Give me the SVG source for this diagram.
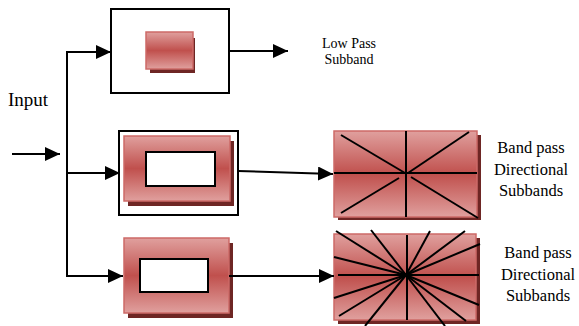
<svg xmlns="http://www.w3.org/2000/svg" width="579" height="326" viewBox="0 0 579 326">
  <defs>
    <linearGradient id="gloss" x1="0" y1="0" x2="0" y2="1">
      <stop offset="0" stop-color="#e0a09e"/>
      <stop offset="0.5" stop-color="#c0504d"/>
      <stop offset="1" stop-color="#e0a09e"/>
    </linearGradient>
    <marker id="head" markerUnits="userSpaceOnUse" markerWidth="16" markerHeight="14" refX="15" refY="7" orient="auto">
      <path d="M0,0 L15,7 L0,14 z" fill="#000"/>
    </marker>
    <style>
      .frame { fill: #fff; stroke: #000; stroke-width: 2; }
      .shadow { fill: #6e2624; }
      .block { fill: url(#gloss); stroke: #cd6a67; stroke-width: 1.5; }
      .hole { fill: #fff; stroke: #000; stroke-width: 2; }
      .wire { fill: none; stroke: #000; stroke-width: 2; }
      .arrow { fill: none; stroke: #000; stroke-width: 2; marker-end: url(#head); }
      .dir { stroke: #000; stroke-width: 2; }
      text { font-family: "Liberation Serif", "DejaVu Serif", serif; fill: #000; }
    </style>
  </defs>

  <g id="input-label">
    <text x="8" y="106" font-size="19" font-family="Liberation Serif, serif">Input</text>
  </g>

  <!-- low pass filter -->
  <g id="lowpass">
    <rect class="frame" x="111" y="9" width="118" height="84"/>
    <rect class="shadow" x="150" y="38" width="45" height="35"/>
    <rect class="block" x="146" y="32" width="47" height="37"/>
  </g>

  <!-- first directional filter -->
  <g id="dfb1">
    <rect class="frame" x="119" y="131" width="119" height="84"/>
    <rect class="shadow" x="128" y="141" width="106" height="65"/>
    <rect class="block" x="124" y="136" width="106" height="65"/>
    <rect class="hole" x="146" y="152" width="69" height="34"/>
  </g>

  <!-- second directional filter -->
  <g id="dfb2">
    <rect class="shadow" x="128" y="243" width="105" height="75"/>
    <rect class="block" x="124" y="238" width="105" height="75"/>
    <rect class="hole" x="140" y="259" width="68" height="33"/>
  </g>

  <!-- eight-direction subbands -->
  <g id="subbands8">
    <rect class="shadow" x="338" y="135" width="143" height="85"/>
    <rect class="block" x="334" y="131" width="143" height="86"/>
    <line class="dir" x1="334" y1="173" x2="477" y2="173"/>
    <line class="dir" x1="406" y1="131" x2="406" y2="217"/>
    <line class="dir" x1="341" y1="135" x2="405" y2="173"/>
    <line class="dir" x1="469" y1="132" x2="408" y2="173"/>
    <line class="dir" x1="341" y1="213" x2="399" y2="178"/>
    <line class="dir" x1="411" y1="177" x2="478" y2="218"/>
  </g>

  <!-- sixteen-direction subbands -->
  <g id="subbands16">
    <rect class="shadow" x="338" y="238" width="142" height="86"/>
    <rect class="block" x="334" y="234" width="142" height="86"/>
    <g class="dir">
      <line x1="338" y1="275" x2="479" y2="275"/>
      <line x1="407" y1="235" x2="407" y2="320"/>
      <line x1="336" y1="231" x2="406" y2="275"/>
      <line x1="371" y1="230" x2="406" y2="275"/>
      <line x1="430" y1="231" x2="406" y2="275"/>
      <line x1="465" y1="231" x2="406" y2="275"/>
      <line x1="480" y1="244" x2="406" y2="275"/>
      <line x1="334" y1="257" x2="406" y2="275"/>
      <line x1="334" y1="298" x2="406" y2="275"/>
      <line x1="339" y1="316" x2="406" y2="275"/>
      <line x1="365" y1="326" x2="406" y2="275"/>
      <line x1="445" y1="326" x2="406" y2="275"/>
      <line x1="466" y1="321" x2="406" y2="275"/>
      <line x1="479" y1="305" x2="406" y2="275"/>
    </g>
  </g>

  <g id="lowpass-label" font-size="14" text-anchor="middle" font-family="Liberation Serif, serif">
    <text x="349" y="48">Low Pass</text>
    <text x="349" y="64">Subband</text>
  </g>

  <g id="band1-label" font-size="16.5" text-anchor="middle" font-family="Liberation Serif, serif">
    <text x="531" y="153">Band pass</text>
    <text x="531" y="175">Directional</text>
    <text x="531" y="196">Subbands</text>
  </g>

  <g id="band2-label" font-size="16.5" text-anchor="middle" font-family="Liberation Serif, serif">
    <text x="538" y="258">Band pass</text>
    <text x="538" y="280">Directional</text>
    <text x="538" y="301">Subbands</text>
  </g>

  <!-- connectors -->
  <g id="connectors">
    <line class="arrow" x1="12" y1="154" x2="60" y2="154"/>
    <line class="wire" x1="67" y1="51" x2="67" y2="277"/>
    <line class="arrow" x1="66" y1="52" x2="111" y2="52"/>
    <line class="arrow" x1="66" y1="173" x2="120" y2="173"/>
    <line class="arrow" x1="66" y1="276" x2="123" y2="276"/>
    <line class="arrow" x1="229" y1="51" x2="288" y2="51"/>
    <line class="arrow" x1="238" y1="171" x2="333" y2="174"/>
    <line class="arrow" x1="229" y1="276" x2="334" y2="276"/>
  </g>
</svg>
